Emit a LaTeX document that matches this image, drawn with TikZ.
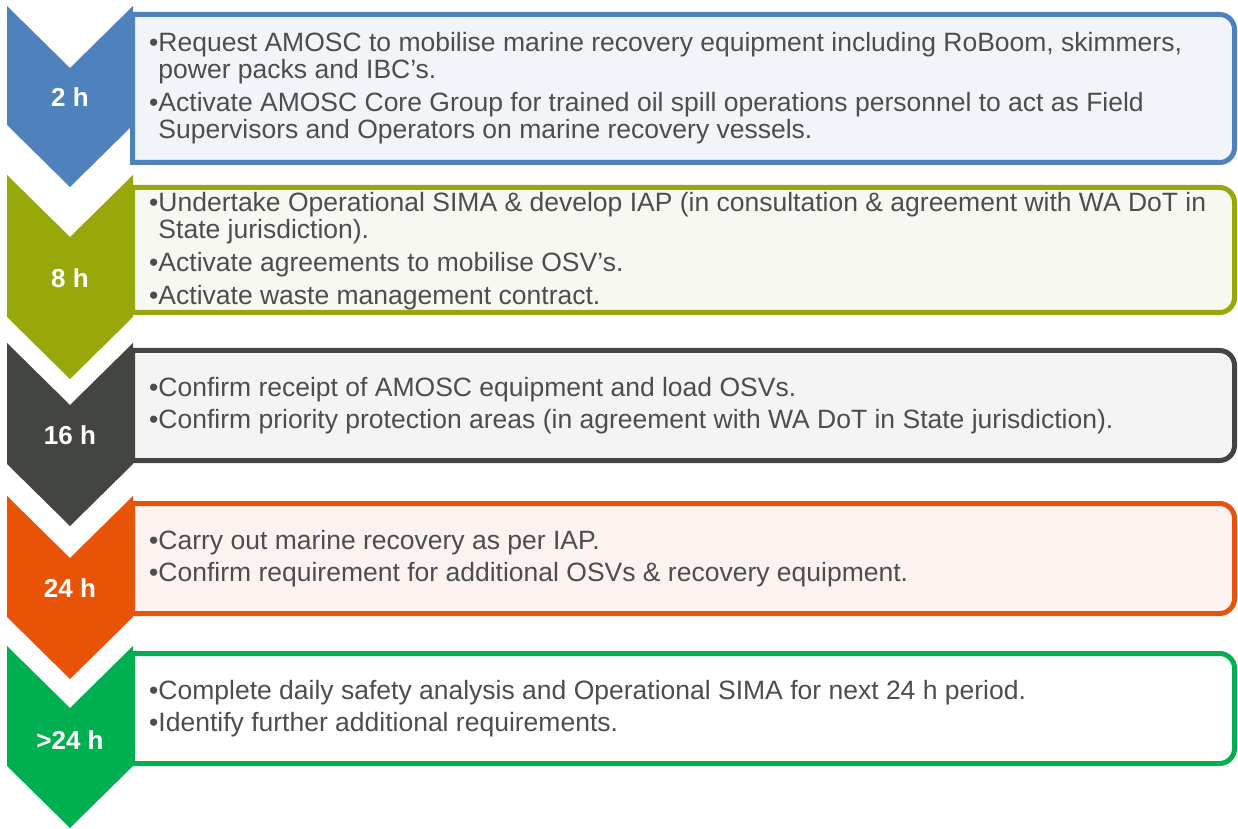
\documentclass[tikz,border=0pt]{standalone}
\usepackage{fontspec}
\setmainfont{Liberation Sans}
\definecolor{cblue}{HTML}{4F81BD}
\definecolor{fblue}{HTML}{F1F5FA}
\definecolor{colive}{HTML}{98A709}
\definecolor{folive}{HTML}{F8F8F2}
\definecolor{cdark}{HTML}{434541}
\definecolor{fdark}{HTML}{F4F4F4}
\definecolor{corange}{HTML}{E85308}
\definecolor{forange}{HTML}{FCF3F0}
\definecolor{cgreen}{HTML}{00B050}
\definecolor{fgreen}{HTML}{FFFFFF}
\definecolor{txt}{HTML}{4D4D4B}
\newcommand{\ind}{\phantom{•}}
\tikzset{
  boxline/.style={line width=5pt},
  lbl/.style={text=white, font=\fontsize{26}{28}\selectfont\bfseries, inner sep=0pt},
  body/.style={text=txt, font=\fontsize{26.5}{27}\selectfont, align=left, anchor=west, inner sep=0pt},
}
\begin{document}
\begin{tikzpicture}[x=1pt,y=1pt]
\useasboundingbox (0,0) rectangle (1238,828);
% boxes
\draw[boxline, draw=cblue, fill=fblue] (132.5,813.5) -- (1219.5,813.5) arc[start angle=90,end angle=0,radius=15pt] -- (1234.5,680.5) arc[start angle=0,end angle=-90,radius=15pt] -- (132.5,665.5) -- cycle;
\draw[boxline, draw=colive, fill=folive] (132.5,640.5) -- (1219.5,640.5) arc[start angle=90,end angle=0,radius=15pt] -- (1234.5,530.5) arc[start angle=0,end angle=-90,radius=15pt] -- (132.5,515.5) -- cycle;
\draw[boxline, draw=cdark, fill=fdark] (132.5,477.5) -- (1219.5,477.5) arc[start angle=90,end angle=0,radius=15pt] -- (1234.5,382.5) arc[start angle=0,end angle=-90,radius=15pt] -- (132.5,367.5) -- cycle;
\draw[boxline, draw=corange, fill=forange] (132.5,324.5) -- (1219.5,324.5) arc[start angle=90,end angle=0,radius=15pt] -- (1234.5,229.5) arc[start angle=0,end angle=-90,radius=15pt] -- (132.5,214.5) -- cycle;
\draw[boxline, draw=cgreen, fill=fgreen] (132.5,174.5) -- (1219.5,174.5) arc[start angle=90,end angle=0,radius=15pt] -- (1234.5,79.5) arc[start angle=0,end angle=-90,radius=15pt] -- (132.5,64.5) -- cycle;
% chevrons
\fill[cblue] (7,822) -- (70,760) -- (133,822) -- (133,703) -- (70,641) -- (7,703) -- cycle;
\fill[colive] (7,653) -- (70,591) -- (133,653) -- (133,511) -- (70,449) -- (7,511) -- cycle;
\fill[cdark] (7,485) -- (70,423) -- (133,485) -- (133,364) -- (70,302) -- (7,364) -- cycle;
\fill[corange] (7,332) -- (70,270) -- (133,332) -- (133,211) -- (70,149) -- (7,211) -- cycle;
\fill[cgreen] (7,182) -- (70,120) -- (133,182) -- (133,62) -- (70,0) -- (7,62) -- cycle;
% labels
\node[lbl] (l1) at (70,731) {2 h};
\node[lbl] (l2) at (70,550) {8 h};
\node[lbl] (l3) at (70,393) {16 h};
\node[lbl] (l4) at (70,240) {24 h};
\node[lbl] (l5) at (70,88) {>24 h};
% texts
\node[body] (t1) at (149,739.5) {•Request AMOSC to mobilise marine recovery equipment including RoBoom, skimmers,\\
\ind power packs and IBC’s.\\[6pt]
•Activate AMOSC Core Group for trained oil spill operations personnel to act as Field\\
\ind Supervisors and Operators on marine recovery vessels.};
\node[body] (t2) at (149,577) {•Undertake Operational SIMA \& develop IAP (in consultation \& agreement with WA DoT in\\
\ind State jurisdiction).\\[6pt]
•Activate agreements to mobilise OSV’s.\\[6pt]
•Activate waste management contract.};
\node[body] (t3) at (149,422.5) {•Confirm receipt of AMOSC equipment and load OSVs.\\[5pt]
•Confirm priority protection areas (in agreement with WA DoT in State jurisdiction).};
\node[body] (t4) at (149,269.5) {•Carry out marine recovery as per IAP.\\[5pt]
•Confirm requirement for additional OSVs \& recovery equipment.};
\node[body] (t5) at (149,119.5) {•Complete daily safety analysis and Operational SIMA for next 24 h period.\\[5pt]
•Identify further additional requirements.};
\end{tikzpicture}
\end{document}
